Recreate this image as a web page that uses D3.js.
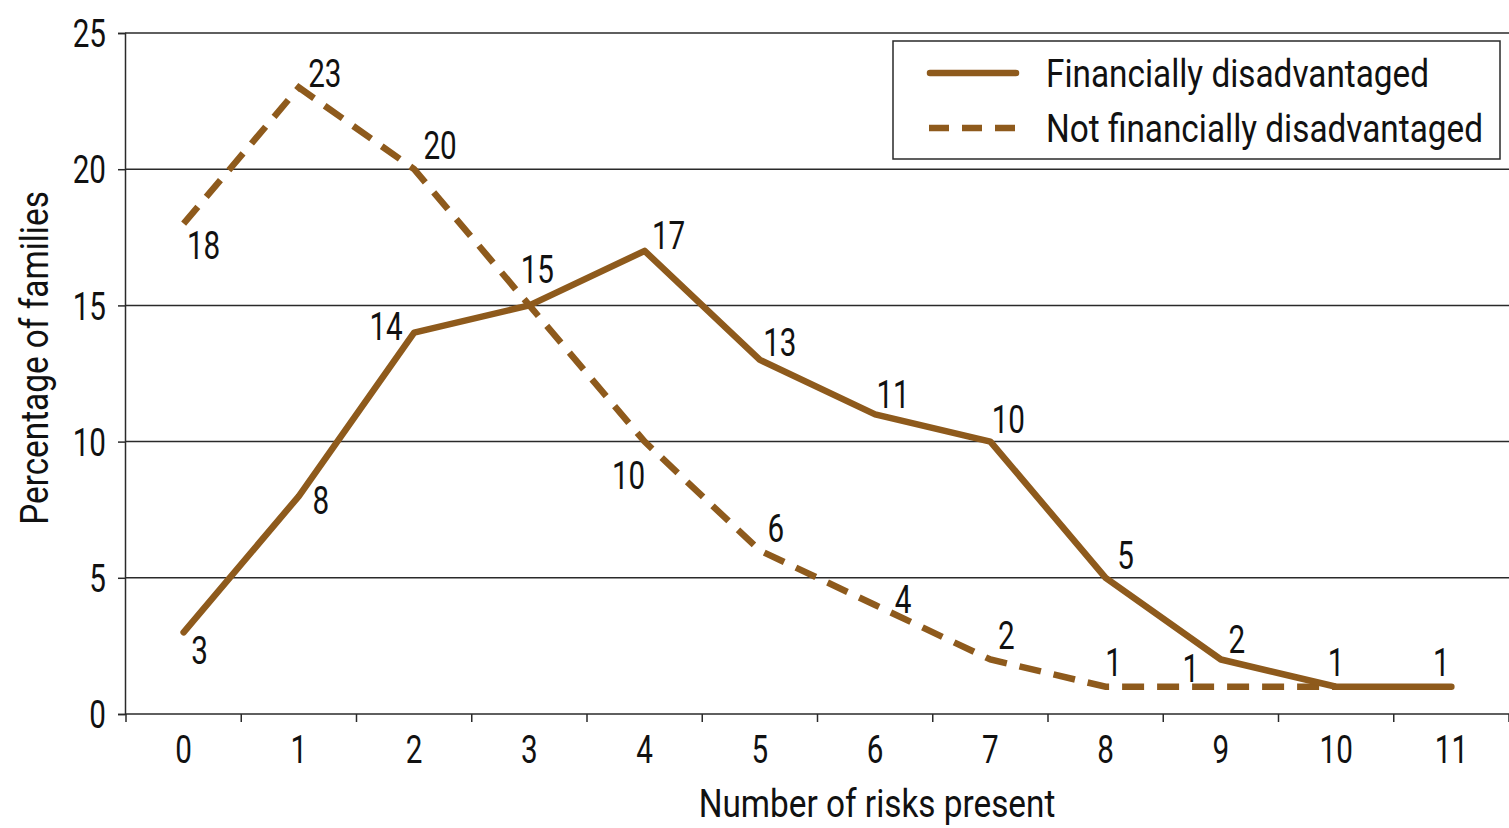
<!DOCTYPE html>
<html><head><meta charset="utf-8">
<script src="https://cdn.jsdelivr.net/npm/d3@7"></script>
<style>
html,body{margin:0;padding:0;background:#fff;}
svg text{font-family:Roboto,"Noto Sans",sans-serif;fill:#111;}
</style></head>
<body><svg id="chart" width="1509" height="828"></svg>
<script>
const categories = ["0","1","2","3","4","5","6","7","8","9","10","11"];
const financiallyDisadvantaged = [3,8,14,15,17,13,11,10,5,2,1,1];
const notFinanciallyDisadvantaged = [18,23,20,15,10,6,4,2,1,1,1];
const yTicks = [0,5,10,15,20,25];
const seriesNames = ["Financially disadvantaged","Not financially disadvantaged"];
const xTitle = "Number of risks present";
const yTitle = "Percentage of families";

// label placement (offsets from point, px); null = label not drawn
const solidLabelOffsets = [[16,18],[22,4],[-28,-6],null,[24,-16],[20,-18],[18,-20],[18,-22],[20,-22],[16,-20],null,[-10,-24]];
const dashLabelOffsets = [[20,22],[26,-14],[26,-24],[8,-36],[-16,34],[16,-22],[28,-6],[16,-24],[8,-24],[-30,-18],[0,-24]];

const W = 1509, H = 828;
const m = {left:125, right:0, top:33, bottom:114};
const svg = d3.select("#chart");
const color = "#8e5a1c";
const gridColor = "#2a2a2a";
const FS = 38, FSW = 39;

const x = d3.scaleBand().domain(categories).range([m.left+1, W - m.right]).paddingInner(0).paddingOuter(0);
const y = d3.scaleLinear().domain([0,25]).range([H - m.bottom, m.top]);
const cx = c => x(c) + x.bandwidth()/2;

// gridlines
svg.append("g").selectAll("line").data(yTicks.filter(d=>d>0)).join("line")
  .attr("x1", m.left).attr("x2", W).attr("y1", d=>y(d)).attr("y2", d=>y(d))
  .attr("stroke", gridColor).attr("stroke-width", 1.5);

// y axis
const yAxis = svg.append("g").attr("transform",`translate(${m.left},0)`)
  .call(d3.axisLeft(y).tickValues(yTicks).tickSize(7).tickPadding(12));
yAxis.select(".domain").attr("stroke", gridColor).attr("stroke-width",1.5);
yAxis.selectAll(".tick line").attr("stroke", gridColor).attr("stroke-width",1.5);
yAxis.selectAll(".tick text").attr("font-size", FS).attr("fill","#111").attr("dy","0.36em").classed("num",true);

// x axis
const xAxis = svg.append("g").attr("transform",`translate(0,${y(0)})`)
  .call(d3.axisBottom(x).tickSize(0).tickPadding(22));
xAxis.select(".domain").attr("stroke", gridColor).attr("stroke-width",1.5)
  .attr("d", `M${m.left},0H${W}`);
xAxis.selectAll(".tick text").attr("font-size", FS).attr("fill","#111").classed("num",true);
svg.selectAll("g").attr("font-family",null);
// boundary ticks
const bounds = categories.map(c => x(c)).concat([x(categories[categories.length-1]) + x.bandwidth()]);
xAxis.append("g").selectAll("line").data(bounds).join("line")
  .attr("x1", d=>d).attr("x2", d=>d).attr("y1",0).attr("y2",8)
  .attr("stroke", gridColor).attr("stroke-width",1.5);

// titles
svg.append("text").attr("x", 877).attr("y", 817).attr("text-anchor","middle")
  .attr("font-size", FSW).text(xTitle);
svg.append("text").attr("transform",`translate(48,${358}) rotate(-90)`).attr("text-anchor","middle")
  .attr("font-size", FSW).text(yTitle);

// lines
const line = d3.line().x((d,i)=>cx(categories[i])).y(d=>y(d));
svg.append("path").datum(notFinanciallyDisadvantaged).attr("d", line)
  .attr("fill","none").attr("stroke",color).attr("stroke-width",6.5)
  .attr("stroke-dasharray","22,13");
svg.append("path").datum(financiallyDisadvantaged).attr("d", line)
  .attr("fill","none").attr("stroke",color).attr("stroke-width",6.5)
  .attr("stroke-linejoin","round").attr("stroke-linecap","round");

// data labels
function labels(data, offs){
  svg.append("g").selectAll("text").data(data.map((v,i)=>({v,i,o:offs[i]})).filter(d=>d.o))
    .join("text").classed("num",true)
    .attr("x", d=>cx(categories[d.i]) + d.o[0])
    .attr("y", d=>y(d.v) + d.o[1])
    .attr("dy","0.36em").attr("text-anchor","middle").attr("font-size",FS)
    .text(d=>d.v);
}
labels(financiallyDisadvantaged, solidLabelOffsets);
labels(notFinanciallyDisadvantaged, dashLabelOffsets);

// legend
const lg = svg.append("g");
lg.append("rect").attr("x",893).attr("y",41).attr("width",607).attr("height",118)
  .attr("fill","#fff").attr("stroke",gridColor).attr("stroke-width",1.5);
lg.append("line").attr("x1",930).attr("x2",1016).attr("y1",73).attr("y2",73)
  .attr("stroke",color).attr("stroke-width",6.5).attr("stroke-linecap","round");
lg.append("line").attr("x1",929).attr("x2",1017).attr("y1",128).attr("y2",128)
  .attr("stroke",color).attr("stroke-width",6.5).attr("stroke-dasharray","20,13");
lg.append("text").attr("x",1046).attr("y",73).attr("dy","0.36em").attr("font-size",FSW).text(seriesNames[0]);
lg.append("text").attr("x",1046).attr("y",128).attr("dy","0.36em").attr("font-size",FSW).text(seriesNames[1]);

// condense all text horizontally (reference uses a condensed face)
svg.selectAll("text").each(function(){
  const sel = d3.select(this);
  const s = sel.classed("num") ? 0.78 : 0.855;
  const prev = sel.attr("transform") || "";
  const tx = +(sel.attr("x") || 0), ty = +(sel.attr("y") || 0);
  sel.attr("transform", `${prev} translate(${tx},${ty}) scale(${s},1) translate(${-tx},${-ty})`);
});
</script></body></html>
